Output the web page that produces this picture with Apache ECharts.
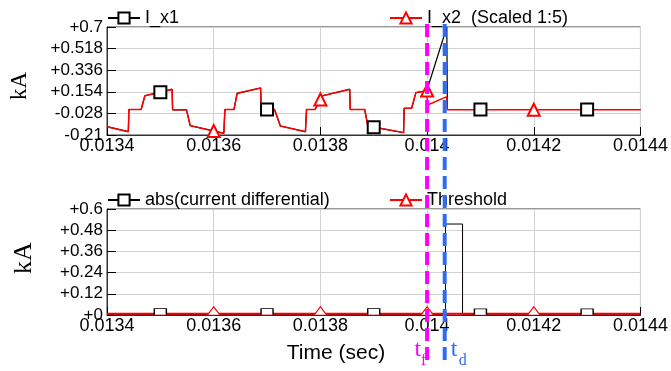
<!DOCTYPE html>
<html>
<head>
<meta charset="utf-8">
<script src="https://cdn.jsdelivr.net/npm/echarts@6/dist/echarts.min.js"></script>
<style>
  html, body { margin: 0; padding: 0; background: #fff; }
  #chart { width: 671px; height: 371px; }
</style>
</head>
<body>
<div id="chart"></div>
<script>
// Upper panel: branch currents (kA)
const tX1 = [0.013400, 0.013440, 0.013441, 0.013464, 0.013471, 0.013500, 0.013522, 0.013523, 0.013549, 0.013556,
             0.013619, 0.013621, 0.013638, 0.013644, 0.013688, 0.013689, 0.013700, 0.013714, 0.013725, 0.013772,
             0.013774, 0.013790, 0.013804, 0.013855, 0.013856, 0.013883, 0.013889, 0.013900, 0.013956, 0.013957,
             0.013971, 0.013979, 0.013999, 0.014001, 0.014037, 0.014038, 0.014100, 0.014300, 0.014400];
const iX1 = [-0.140, -0.182, 0.005, 0.005, 0.121, 0.150, 0.175, 0.002, 0.002, -0.131,
             -0.196, 0.005, 0.005, 0.141, 0.186, 0.005, 0.005, 0.005, -0.134, -0.182,
             0.005, 0.005, 0.121, 0.175, 0.005, 0.005, -0.134, -0.144, -0.190, 0.015,
             0.015, 0.147, 0.163, 0.186, 0.700, 0.005, 0.005, 0.005, 0.005];
const x1Marks = [0.0135, 0.0137, 0.0139, 0.0141, 0.0143];

const tX2 = [0.013400, 0.013440, 0.013441, 0.013464, 0.013471, 0.013522, 0.013523, 0.013549, 0.013556, 0.013600,
             0.013619, 0.013621, 0.013638, 0.013644, 0.013688, 0.013689, 0.013714, 0.013725, 0.013772, 0.013774,
             0.013790, 0.013800, 0.013804, 0.013855, 0.013856, 0.013883, 0.013889, 0.013956, 0.013957, 0.013971,
             0.013979, 0.013999, 0.014000, 0.014001, 0.014037, 0.014038, 0.014200, 0.014400];
const iX2 = [-0.140, -0.182, 0.005, 0.005, 0.121, 0.175, 0.002, 0.002, -0.131, -0.176,
             -0.196, 0.005, 0.005, 0.141, 0.186, 0.005, 0.005, -0.134, -0.182, 0.005,
             0.005, 0.089, 0.121, 0.175, 0.005, 0.005, -0.134, -0.190, 0.015, 0.015,
             0.147, 0.163, 0.165, 0.043, 0.113, 0.003, 0.003, 0.003];
const x2Marks = [0.0136, 0.0138, 0.0140, 0.0142];

// Lower panel: differential current and trip threshold (kA)
const tDiff = [0.0134, 0.0135, 0.0137, 0.0139, 0.0140345, 0.0140345, 0.0140665, 0.0140665, 0.0141, 0.0143, 0.0144];
const iDiff = [0.002, 0.002, 0.002, 0.002, 0.002, 0.515, 0.515, 0.001, 0.001, 0.001, 0.001];
const diffMarks = [0.0135, 0.0137, 0.0139, 0.0141, 0.0143];

const tThr = [0.0134, 0.0136, 0.0138, 0.0140, 0.0142, 0.0144];
const iThr = [0.007, 0.007, 0.007, 0.007, 0.007, 0.007];
const thrMarks = [0.0136, 0.0138, 0.0140, 0.0142];

// Axis ticks
const timeTicks = [0.0134, 0.0136, 0.0138, 0.0140, 0.0142, 0.0144];
const topTicks = [-0.21, -0.028, 0.154, 0.336, 0.518, 0.7];
const bottomTicks = [0, 0.12, 0.24, 0.36, 0.48, 0.6];

// Event instants: fault inception and detection
const tFault = 0.0140;
const tDetect = 0.014033;

const SANS = '"Liberation Sans", Arial, sans-serif';
const SERIF = '"Liberation Serif", "Times New Roman", serif';

function build(times, values, marks, markSym, markStyle) {
  return times.map((t, i) => {
    const item = { value: [t, values[i]] };
    if (marks.indexOf(t) >= 0) {
      if (markSym) item.symbol = markSym;
      if (markStyle) Object.assign(item, markStyle);
    } else {
      item.symbol = 'none';
    }
    return item;
  });
}

const signed = v => (v >= 0 ? '+' : '') + parseFloat(v.toFixed(4));

function xAxisCfg(gi, extra) {
  return Object.assign({
    type: 'value', gridIndex: gi, min: 0.0134, max: 0.0144,
    axisLine: { show: true, onZero: false, lineStyle: { color: '#333', width: 1 } },
    axisTick: { show: true, inside: true, length: 8, customValues: timeTicks, lineStyle: { color: '#000' } },
    axisLabel: { customValues: timeTicks, color: '#000', fontFamily: SANS, fontSize: 18, margin: 2,
                 formatter: v => String(parseFloat(v.toFixed(5))) },
    splitLine: { show: true, lineStyle: { color: '#d2d2d2', width: 1 } }
  }, extra || {});
}

function yAxisCfg(gi, min, max, ticks) {
  return {
    type: 'value', gridIndex: gi, min: min, max: max,
    axisLine: { show: true, onZero: false, lineStyle: { color: '#333', width: 1 } },
    axisTick: { show: true, inside: true, length: 9, customValues: ticks, lineStyle: { color: '#000' } },
    axisLabel: { customValues: ticks, color: '#000', fontFamily: SANS, fontSize: 17, margin: 4,
                 padding: [4, 0, 0, 0], formatter: signed },
    splitLine: { show: true, lineStyle: { color: '#d2d2d2', width: 1 } }
  };
}

const legendText = { color: '#000', fontFamily: SANS, fontSize: 18 };
function legendCfg(name, left, top) {
  return { data: [name], left: left, top: top, padding: 0, itemWidth: 32, itemHeight: 14,
           textStyle: legendText, selectedMode: false };
}

const halfSquare = {
  symbol: 'path://M0,8L0,0L12,0L12,8', symbolSize: [12, 6], symbolOffset: [0, -3],
  itemStyle: { color: '#fff', borderColor: '#000', borderWidth: 1 }
};
const halfTriangle = {
  symbol: 'path://M0,8L6,0L12,8', symbolSize: [12, 8], symbolOffset: [0, -3],
  itemStyle: { color: '#fff', borderColor: '#ff0000', borderWidth: 1 }
};

const chart = echarts.init(document.getElementById('chart'), null, { renderer: 'canvas' });

chart.setOption({
  animation: false,
  backgroundColor: '#fff',
  grid: [
    { left: 107, right: 26, top: 27, height: 108, show: true, borderColor: '#333', borderWidth: 1, backgroundColor: 'transparent' },
    { left: 107, right: 26, top: 209, height: 106, show: true, borderColor: '#333', borderWidth: 1, backgroundColor: 'transparent' }
  ],
  legend: [
    legendCfg('I_x1', 107, 9),
    legendCfg('I_x2  (Scaled 1:5)', 389, 9),
    legendCfg('abs(current differential)', 107, 191),
    legendCfg('Threshold', 389, 191)
  ],
  xAxis: [ xAxisCfg(0), xAxisCfg(1) ],
  yAxis: [
    yAxisCfg(0, -0.21, 0.7, topTicks),
    yAxisCfg(1, 0, 0.6, bottomTicks)
  ],
  series: [
    {
      name: 'I_x1', type: 'line', xAxisIndex: 0, yAxisIndex: 0,
      symbol: 'emptyRect', symbolSize: 12, showSymbol: true, showAllSymbol: true,
      itemStyle: { color: '#000' }, lineStyle: { color: '#000', width: 1.2 },
      emphasis: { disabled: true },
      data: build(tX1, iX1, x1Marks)
    },
    {
      name: 'I_x2  (Scaled 1:5)', type: 'line', xAxisIndex: 0, yAxisIndex: 0,
      symbol: 'emptyTriangle', symbolSize: 12, showSymbol: true, showAllSymbol: true,
      itemStyle: { color: '#ff0000' }, lineStyle: { color: '#ff0000', width: 1.5 },
      emphasis: { disabled: true },
      data: build(tX2, iX2, x2Marks)
    },
    {
      name: 'abs(current differential)', type: 'line', xAxisIndex: 1, yAxisIndex: 1,
      symbol: 'emptyRect', symbolSize: 12, showSymbol: true, showAllSymbol: true,
      itemStyle: { color: '#000' }, lineStyle: { color: '#000', width: 1 },
      emphasis: { disabled: true },
      data: build(tDiff, iDiff, diffMarks, halfSquare.symbol,
                  { symbolSize: halfSquare.symbolSize, symbolOffset: halfSquare.symbolOffset, itemStyle: halfSquare.itemStyle })
    },
    {
      name: 'Threshold', type: 'line', xAxisIndex: 1, yAxisIndex: 1,
      symbol: 'emptyTriangle', symbolSize: 12, showSymbol: true, showAllSymbol: true,
      itemStyle: { color: '#ff0000' }, lineStyle: { color: '#ff0000', width: 2 },
      emphasis: { disabled: true },
      data: build(tThr, iThr, thrMarks, halfTriangle.symbol,
                  { symbolSize: halfTriangle.symbolSize, symbolOffset: halfTriangle.symbolOffset, itemStyle: halfTriangle.itemStyle })
    }
  ]
});

// Event markers spanning both panels, placed through the time axis
const xf = chart.convertToPixel({ gridIndex: 0 }, [tFault, 0])[0];
const xd = chart.convertToPixel({ gridIndex: 0 }, [tDetect, 0])[0];
const dashTop = 24, dashBottom = 361;

chart.setOption({
  graphic: [
    // unit labels and time-axis title
    { type: 'text', x: 20, y: 86, rotation: Math.PI / 2,
      style: { text: 'kA', fill: '#000', font: '23px ' + SERIF, textAlign: 'center', textVerticalAlign: 'middle' } },
    { type: 'text', x: 24, y: 258, rotation: Math.PI / 2,
      style: { text: 'kA', fill: '#000', font: '26px ' + SERIF, textAlign: 'center', textVerticalAlign: 'middle' } },
    { type: 'text', x: 336, y: 353,
      style: { text: 'Time (sec)', fill: '#000', font: '21px ' + SANS, textAlign: 'center', textVerticalAlign: 'middle' } },
    // fault and detection instants
    { type: 'line', z: 100, shape: { x1: xf, y1: dashTop, x2: xf, y2: dashBottom },
      style: { stroke: '#ff00ff', lineWidth: 4, lineDash: [13, 6] } },
    { type: 'line', z: 100, shape: { x1: xd, y1: dashTop, x2: xd, y2: dashBottom },
      style: { stroke: '#2f6cf5', lineWidth: 4, lineDash: [13, 6] } },
    { type: 'text', z: 100, x: xf - 6, y: 362,
      style: { text: 't', fill: '#ff00ff', font: '24px ' + SERIF, textAlign: 'right', textVerticalAlign: 'bottom' } },
    { type: 'text', z: 100, x: xf - 6, y: 369,
      style: { text: 'f', fill: '#ff00ff', font: '16px ' + SERIF, textAlign: 'left', textVerticalAlign: 'bottom' } },
    { type: 'text', z: 100, x: xd + 6, y: 362,
      style: { text: 't', fill: '#2f6cf5', font: '24px ' + SERIF, textAlign: 'left', textVerticalAlign: 'bottom' } },
    { type: 'text', z: 100, x: xd + 14, y: 369,
      style: { text: 'd', fill: '#2f6cf5', font: '16px ' + SERIF, textAlign: 'left', textVerticalAlign: 'bottom' } }
  ]
});
</script>
</body>
</html>
